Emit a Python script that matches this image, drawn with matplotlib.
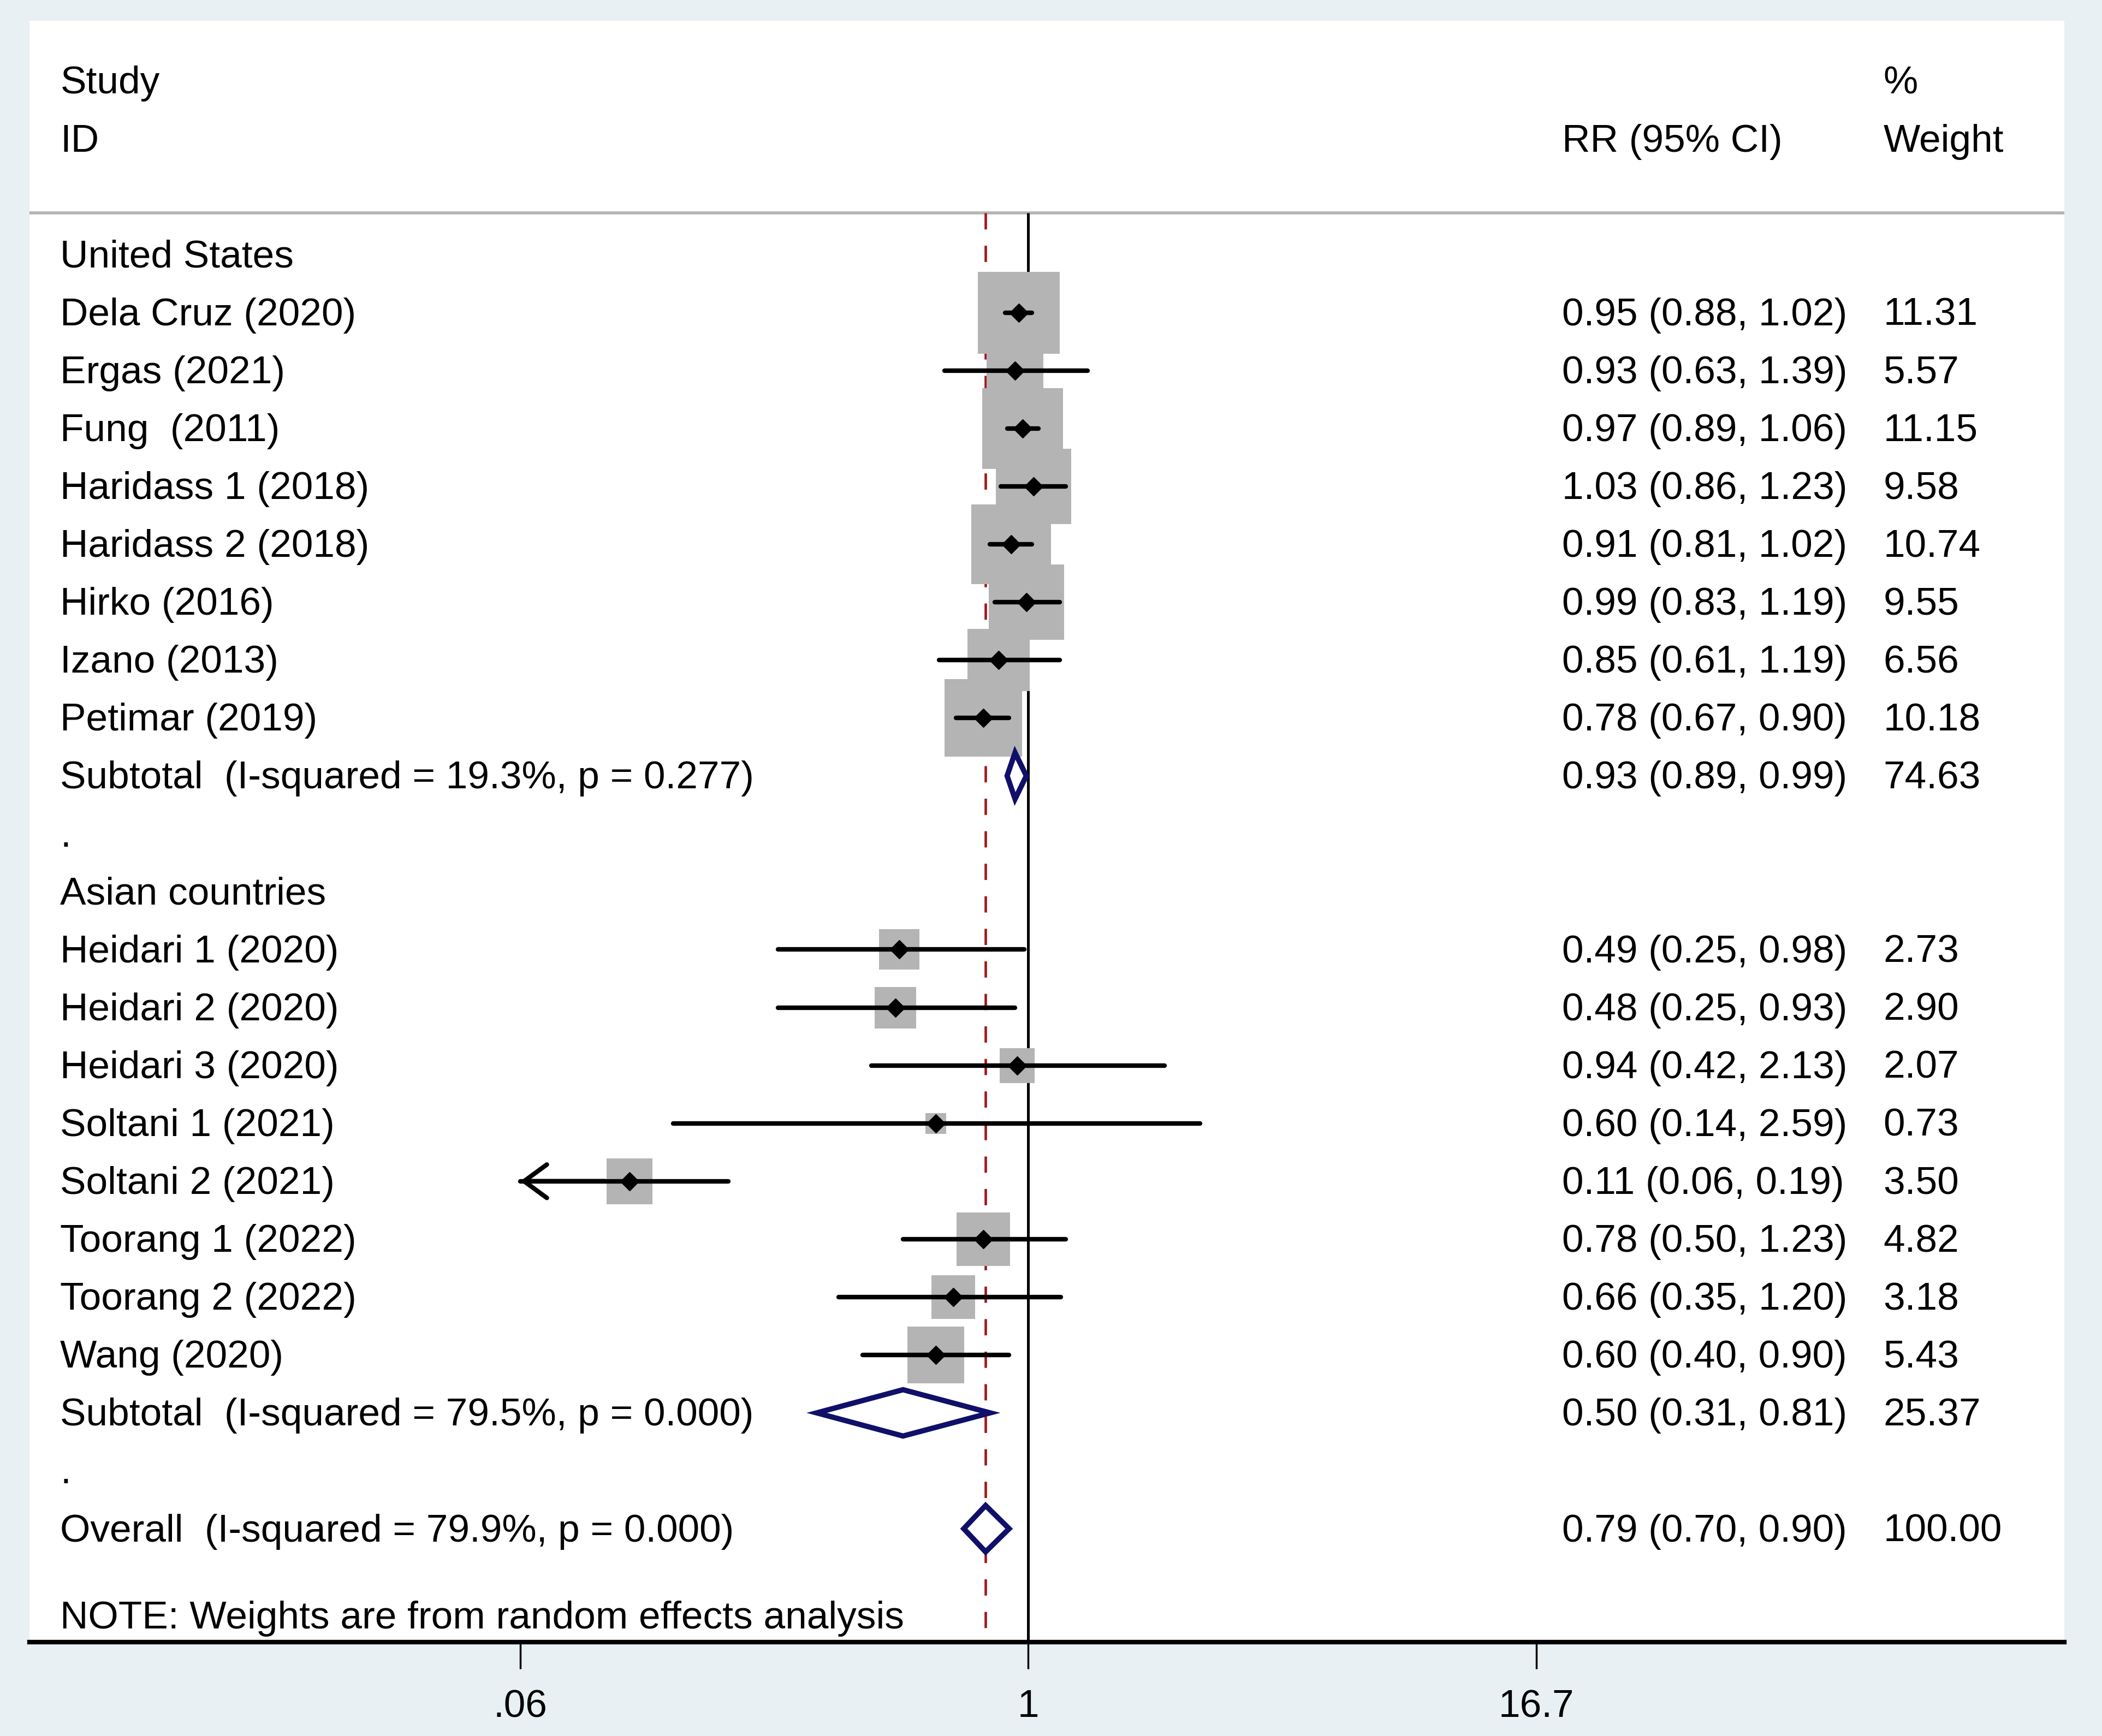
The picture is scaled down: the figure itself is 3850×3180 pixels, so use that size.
import numpy as np
import matplotlib
matplotlib.use("Agg")
import matplotlib.pyplot as plt
from matplotlib.patches import Polygon
from matplotlib.transforms import blended_transform_factory

plt.rcParams['font.family'] = ['Liberation Sans', 'DejaVu Sans']

""" Study data, read off the forest plot """
us_studies = ["Dela Cruz (2020)", "Ergas (2021)", "Fung  (2011)", "Haridass 1 (2018)",
              "Haridass 2 (2018)", "Hirko (2016)", "Izano (2013)", "Petimar (2019)"]
us_rr = [0.95, 0.93, 0.97, 1.03, 0.91, 0.99, 0.85, 0.78]
us_lo = [0.88, 0.63, 0.89, 0.86, 0.81, 0.83, 0.61, 0.67]
us_hi = [1.02, 1.39, 1.06, 1.23, 1.02, 1.19, 1.19, 0.90]
us_w = [11.31, 5.57, 11.15, 9.58, 10.74, 9.55, 6.56, 10.18]
us_sub = (0.93, 0.89, 0.99, 74.63)
us_het = "Subtotal  (I-squared = 19.3%, p = 0.277)"

asia_studies = ["Heidari 1 (2020)", "Heidari 2 (2020)", "Heidari 3 (2020)", "Soltani 1 (2021)",
                "Soltani 2 (2021)", "Toorang 1 (2022)", "Toorang 2 (2022)", "Wang (2020)"]
asia_rr = [0.49, 0.48, 0.94, 0.60, 0.11, 0.78, 0.66, 0.60]
asia_lo = [0.25, 0.25, 0.42, 0.14, 0.06, 0.50, 0.35, 0.40]
asia_hi = [0.98, 0.93, 2.13, 2.59, 0.19, 1.23, 1.20, 0.90]
asia_w = [2.73, 2.90, 2.07, 0.73, 3.50, 4.82, 3.18, 5.43]
asia_sub = (0.50, 0.31, 0.81, 25.37)
asia_het = "Subtotal  (I-squared = 79.5%, p = 0.000)"

overall = (0.79, 0.70, 0.90, 100.00)
overall_het = "Overall  (I-squared = 79.9%, p = 0.000)"

tick_vals = [0.06, 1, 16.7]
tick_labels = [".06", "1", "16.7"]

""" Style """
bg = '#e8f0f3'
box_gray = '#b4b4b4'
navy = '#10106a'
dash_red = '#a01818'
fs = 51.3
dy = 0.05  # small nudge so text sits on the row like the original

fig = plt.figure(figsize=(38.5, 31.8), dpi=100, facecolor=bg)
ax = fig.add_axes([0.01403, 0.0541, 0.9681, 0.9339])
ax.set_facecolor('white')
ax.set_xscale('log')
ax.set_xlim(0.003959, 311.1)
ax.set_ylim(23.958, -4.037)
tr = blended_transform_factory(ax.transAxes, ax.transData)

x_name, x_rr, x_w = 0.01515, 0.753, 0.911

def txt(x, y, s):
    ax.text(x, y + dy, s, transform=tr, fontsize=fs, va='center', ha='left', color='black')

def study_row(y, name, rr, lo, hi, w):
    ax.plot([rr], [y], marker='s', markersize=32.0 * np.sqrt(w), color=box_gray,
            mew=0, linestyle='none', zorder=2)
    ax.plot([max(lo, tick_vals[0]), hi], [y, y], color='black', lw=6,
            solid_capstyle='round', zorder=3)
    if lo <= tick_vals[0]:
        ax.annotate('', xy=(tick_vals[0], y), xytext=(tick_vals[0] * 1.6, y),
                    arrowprops=dict(arrowstyle='->,head_length=0.3,head_width=0.22',
                                    lw=6, color='black', shrinkA=0, shrinkB=0,
                                    mutation_scale=100), zorder=3)
    ax.plot([rr], [y], marker='D', markersize=17, color='black', linestyle='none', zorder=4)
    txt(x_name, y, name)
    txt(x_rr, y, f"{rr:.2f} ({lo:.2f}, {hi:.2f})")
    txt(x_w, y, f"{w:.2f}")

def pooled_row(y, label, pooled, h=0.4):
    rr, lo, hi, w = pooled
    poly = Polygon([(lo, y), (rr, y - h), (hi, y), (rr, y + h)], closed=True,
                   facecolor='white', edgecolor=navy, lw=7, joinstyle='miter', zorder=3)
    ax.add_patch(poly)
    txt(x_name, y, label)
    txt(x_rr, y, f"{rr:.2f} ({lo:.2f}, {hi:.2f})")
    txt(x_w, y, f"{w:.2f}")

""" Header """
txt(x_name, -3, "Study")
txt(x_name, -2, "ID")
txt(x_rr, -2, "RR (95% CI)")
txt(x_w, -3, "%")
txt(x_w, -2, "Weight")
ax.plot([0, 1], [-0.72, -0.72], transform=tr, color=box_gray, lw=4, zorder=1)

""" Reference lines """
ax.vlines(1, -0.72, 23.958, color='black', lw=3.6, zorder=1)
ax.vlines(overall[0], -0.72, 23.958, color=dash_red, lw=3.3, linestyles=(0, (6.5, 6.5)), zorder=1)

""" Rows """
txt(x_name, 0, "United States")
for i in range(len(us_studies)):
    study_row(1 + i, us_studies[i], us_rr[i], us_lo[i], us_hi[i], us_w[i])
pooled_row(9, us_het, us_sub)
txt(x_name, 10, ".")

txt(x_name, 11, "Asian countries")
for i in range(len(asia_studies)):
    study_row(12 + i, asia_studies[i], asia_rr[i], asia_lo[i], asia_hi[i], asia_w[i])
pooled_row(20, asia_het, asia_sub)
txt(x_name, 21, ".")

pooled_row(22, overall_het, overall)
txt(x_name, 23.5, "NOTE: Weights are from random effects analysis")

""" Axis """
for s in ['top', 'left', 'right']:
    ax.spines[s].set_visible(False)
ax.spines['bottom'].set_linewidth(6)
ax.spines['bottom'].set_color('black')
ax.set_yticks([])
ax.xaxis.set_minor_locator(matplotlib.ticker.NullLocator())
ax.set_xticks(tick_vals)
ax.set_xticklabels(tick_labels)
ax.tick_params(axis='x', direction='out', length=35, width=2.5, labelsize=fs, pad=27, color='black')

fig.savefig('out.png', dpi=100, facecolor=fig.get_facecolor())
